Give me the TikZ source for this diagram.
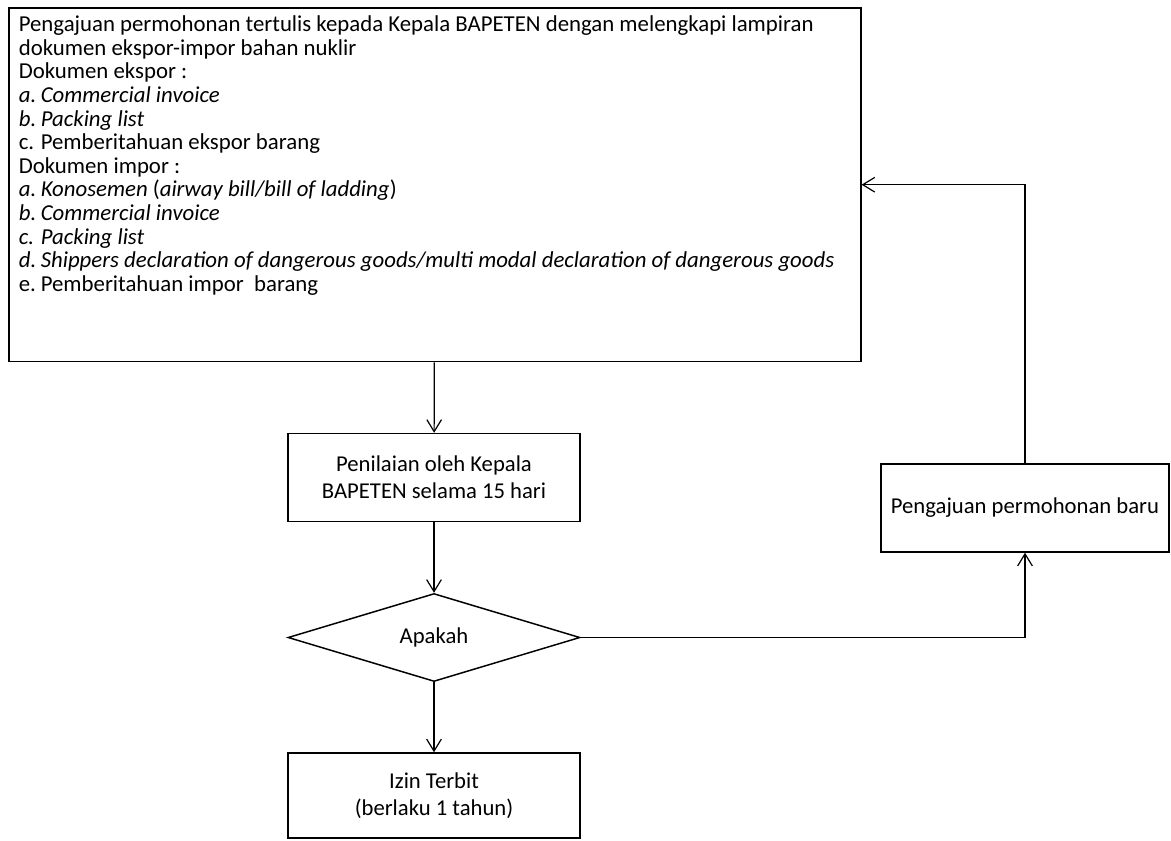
\documentclass[tikz,border=0pt]{standalone}
\usepackage{fontspec}
\setmainfont{Carlito}
\usetikzlibrary{arrows.meta,positioning,shapes.geometric}
\definecolor{ink}{RGB}{0,0,0}
\tikzset{
  >={Straight Barb[length=9pt,width=11pt]},
  box/.style={draw=ink,line width=1.1pt,fill=white,align=center,
    font=\fontsize{17}{20.5}\selectfont,minimum width=219pt,minimum height=66pt},
  docbox/.style={draw=ink,line width=1.2pt,align=flush left,text width=624pt,
    inner xsep=7.5pt,inner ysep=6pt,text depth=241.5pt,
    font=\fontsize{17.1}{17.7}\selectfont},
  choice/.style={diamond,draw=ink,line width=1.1pt,aspect=3.3,inner sep=0pt,
    minimum width=219pt,minimum height=66pt,font=\fontsize{17}{20.5}\selectfont},
  flow/.style={->,line width=0.9pt,draw=#1},
  flow/.default=ink,
}
\newcommand{\itm}[1]{\leavevmode\hbox to 16.5pt{#1\hfil}}

\begin{document}
\begin{tikzpicture}[x=0.75pt,y=-0.75pt]
  \useasboundingbox (0,0) rectangle (1171,840);
  % request with the attached documents
  \node[docbox,anchor=north west] (req) at (8,7) {%
    Pengajuan permohonan tertulis kepada Kepala BAPETEN dengan melengkapi lampiran\\
    dokumen ekspor-impor bahan nuklir\\
    Dokumen ekspor :\\
    \itm{\textit{a.}}\textit{Commercial invoice}\\
    \itm{\textit{b.}}\textit{Packing list}\\
    \itm{c.}Pemberitahuan ekspor barang\\
    Dokumen impor :\\
    \itm{\textit{a.}}\textit{Konosemen} (\textit{airway bill/bill of ladding})\\
    \itm{\textit{b.}}\textit{Commercial invoice}\\
    \itm{\textit{c.}}\textit{Packing list}\\
    \itm{\textit{d.}}\textit{Shippers declaration of dangerous goods/multi modal declaration of dangerous goods}\\
    \itm{e.}Pemberitahuan impor\ \ barang};
  \node[box] (eval) at (434,477.5) {Penilaian oleh Kepala\\BAPETEN selama 15 hari};
  \node[choice] (dec) at (434,637.5) {Apakah};
  \node[box,minimum height=63.75pt] (izin) at (434,795.5) {Izin Terbit\\(berlaku 1 tahun)};
  \node[box,minimum width=216pt] (baru) at (1025,508) {Pengajuan permohonan baru};
  % connectors
  \draw[flow] (req) -- (eval);
  \draw[flow] (eval) -- (dec);
  \draw[flow] (dec) -- (izin);
  \draw[flow] (dec.east) -| (baru.south);
  \draw[flow] (baru.north) |- (req.east);
\end{tikzpicture}
\end{document}
